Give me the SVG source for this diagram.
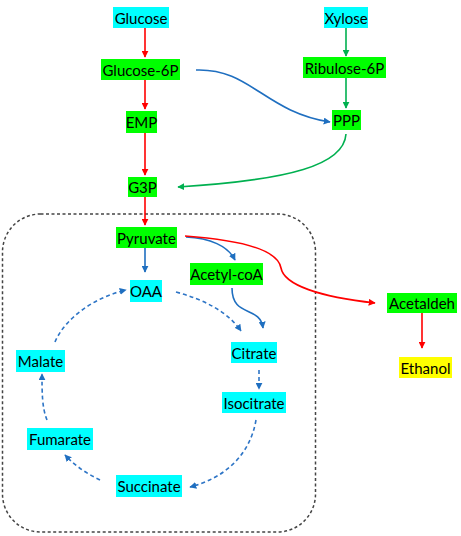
<svg xmlns="http://www.w3.org/2000/svg" width="461" height="536" viewBox="0 0 461 536">
<style>
text{font-family:Lato,"Liberation Sans",sans-serif;font-size:15px;fill:#000;text-anchor:middle;dominant-baseline:central}
.c{fill:#00FFFF}.g{fill:#00FF00}.y{fill:#FFFF00}
.r{stroke:#FF0000;stroke-width:1.6;fill:none}
.gr{stroke:#00B050;stroke-width:1.6;fill:none}
.b{stroke:#1F6FC0;stroke-width:1.6;fill:none}
.bd{stroke:#2E75C6;stroke-width:1.6;fill:none;stroke-dasharray:4 3}
</style>
<defs>
<marker id="ar" viewBox="0 0 10 10" refX="9" refY="5" markerWidth="7" markerHeight="7" markerUnits="userSpaceOnUse" orient="auto"><path d="M0,0L10,5L0,10z" fill="#FF0000"/></marker>
<marker id="ag" viewBox="0 0 10 10" refX="9" refY="5" markerWidth="7" markerHeight="7" markerUnits="userSpaceOnUse" orient="auto"><path d="M0,0L10,5L0,10z" fill="#00B050"/></marker>
<marker id="ab" viewBox="0 0 10 10" refX="9" refY="5" markerWidth="7" markerHeight="7" markerUnits="userSpaceOnUse" orient="auto"><path d="M0,0L10,5L0,10z" fill="#1F6FC0"/></marker>
</defs>
<rect x="2.5" y="214" width="313" height="318" rx="38" fill="none" stroke="#444" stroke-width="1.5" stroke-dasharray="3 2.5"/>
<g id="connectors">
<path class="r" d="M145,28V57" marker-end="url(#ar)"/>
<path class="r" d="M145,80V109" marker-end="url(#ar)"/>
<path class="r" d="M145,133V175" marker-end="url(#ar)"/>
<path class="r" d="M145,197V225" marker-end="url(#ar)"/>
<path class="gr" d="M346,28V56" marker-end="url(#ag)"/>
<path class="gr" d="M346,78V108" marker-end="url(#ag)"/>
<path class="gr" d="M346,134C344,165 290,180 178,187" marker-end="url(#ag)"/>
<path class="b" d="M196,70C250,68 265,112 330,122" marker-end="url(#ab)"/>
<path class="b" d="M145,248V272" marker-end="url(#ab)"/>
<path class="b" d="M186,237C210,238 228,246 235,260" marker-end="url(#ab)"/>
<path class="r" d="M185,236C240,240 278,250 281,268C284,285 320,297 375,303" marker-end="url(#ar)"/>
<path class="r" d="M422,313V348" marker-end="url(#ar)"/>
<path class="b" d="M232,288C232,318 260,305 263,328" marker-end="url(#ab)"/>
<path class="bd" d="M176,292C205,300 228,312 241,331" marker-end="url(#ab)"/>
<path class="bd" d="M259,370V389" marker-end="url(#ab)"/>
<path class="bd" d="M256,420C250,455 225,478 190,487" marker-end="url(#ab)"/>
<path class="bd" d="M100,480C88,474 76,467 65,455" marker-end="url(#ab)"/>
<path class="bd" d="M47,420C42,408 42,392 42,374" marker-end="url(#ab)"/>
<path class="bd" d="M55,342C65,318 95,297 126,290" marker-end="url(#ab)"/>
</g>
<g id="glucose"><rect class="c" x="113" y="7" width="56" height="21"/><text x="141" y="17.5">Glucose</text></g>
<g id="glucose6p"><rect class="g" x="101" y="59" width="79" height="21"/><text x="140.5" y="69.5">Glucose-6P</text></g>
<g id="emp"><rect class="g" x="126" y="111" width="31" height="22"/><text x="141.5" y="122">EMP</text></g>
<g id="g3p"><rect class="g" x="128" y="177" width="29" height="20"/><text x="142.5" y="187">G3P</text></g>
<g id="xylose"><rect class="c" x="324" y="7" width="44" height="21"/><text x="346" y="17.5">Xylose</text></g>
<g id="ribulose6p"><rect class="g" x="303" y="57" width="83" height="21"/><text x="344.5" y="67.5">Ribulose-6P</text></g>
<g id="ppp"><rect class="g" x="332" y="110" width="29" height="20"/><text x="346.5" y="120">PPP</text></g>
<g id="pyruvate"><rect class="g" x="116" y="227" width="61" height="21"/><text x="146.5" y="237.5">Pyruvate</text></g>
<g id="oaa"><rect class="c" x="130" y="280" width="32" height="22"/><text x="146" y="291">OAA</text></g>
<g id="acetylcoa"><rect class="g" x="190" y="263" width="73" height="22"/><text x="226.5" y="274">Acetyl-coA</text></g>
<g id="acetaldeh"><rect class="g" x="387" y="293" width="70" height="20"/><text x="422" y="303">Acetaldeh</text></g>
<g id="ethanol"><rect class="y" x="399" y="357" width="53" height="21"/><text x="425.5" y="367.5">Ethanol</text></g>
<g id="citrate"><rect class="c" x="231" y="342" width="46" height="21"/><text x="254" y="352.5">Citrate</text></g>
<g id="isocitrate"><rect class="c" x="222" y="392" width="64" height="21"/><text x="254" y="402.5">Isocitrate</text></g>
<g id="succinate"><rect class="c" x="116" y="475" width="66" height="22"/><text x="149" y="486">Succinate</text></g>
<g id="fumarate"><rect class="c" x="27" y="428" width="66" height="22"/><text x="60" y="439">Fumarate</text></g>
<g id="malate"><rect class="c" x="16" y="350" width="49" height="22"/><text x="40.5" y="361">Malate</text></g>
</svg>
